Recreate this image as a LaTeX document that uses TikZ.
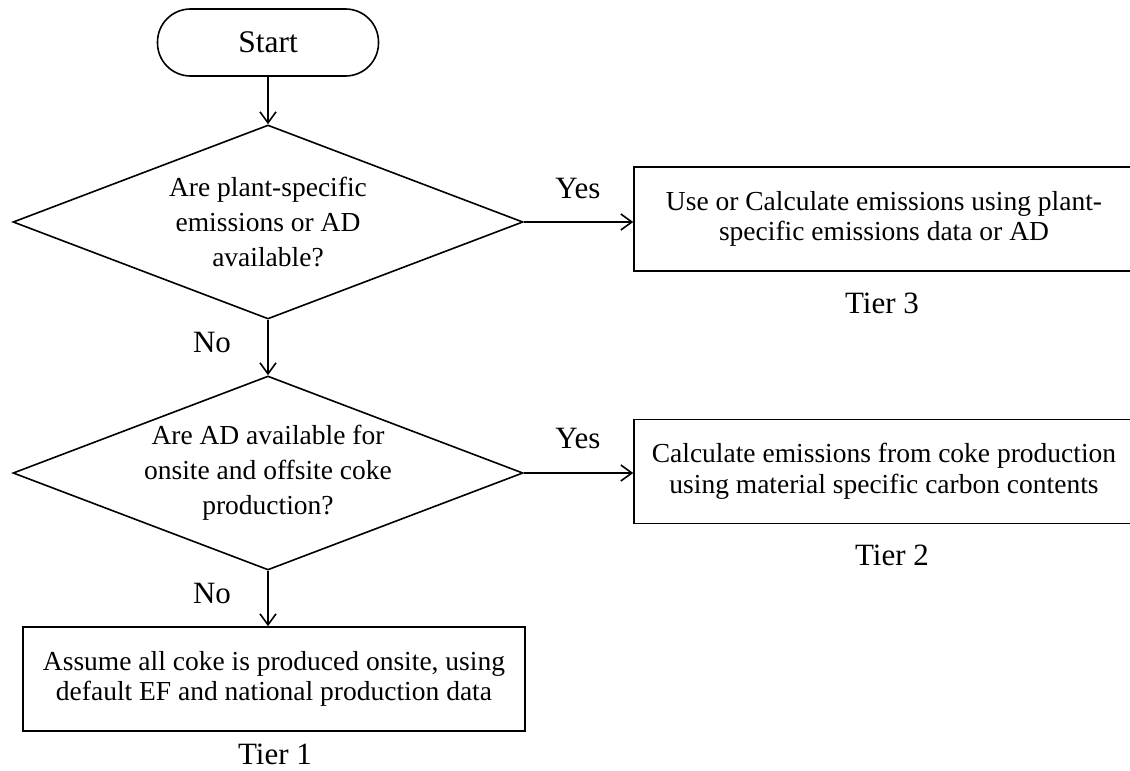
\documentclass[tikz,border=0pt]{standalone}
\usepackage{fontspec}
\setmainfont{Liberation Serif}
\usetikzlibrary{shapes.geometric,arrows.meta}

\begin{document}
\begin{tikzpicture}[x=1pt,y=-1pt,
    txt/.style ={align=center, font=\fontsize{27.5}{30.5}\selectfont},
    tag/.style ={inner sep=0pt, font=\fontsize{31}{34}\selectfont},
    terminal/.style ={draw, line width=1.6pt, rounded corners=33pt, minimum width=221pt, minimum height=67pt, font=\fontsize{31.5}{34}\selectfont},
    decision/.style ={diamond, draw, line width=1.6pt, aspect=2.64, inner sep=0pt, minimum width=510pt, minimum height=194pt, align=center, font=\fontsize{27.5}{35}\selectfont},
    process/.style ={rectangle, draw, line width=1.6pt, minimum height=104pt, txt},
    flow/.style ={line width=1.6pt, -{Straight Barb[length=11pt,width=16pt]}}]
   \useasboundingbox (0,0) rectangle (1130,771);
   \node[terminal] (start) at (268,42.5) {Start};
   \node[decision] (q1) at (268,222) {Are plant-specific\\emissions or AD\\available?};
   \node[decision] (q2) at (268,473) {Are AD available for\\onsite and offsite coke\\production?};
   \node[process, minimum width=500pt] (t3) at (884,219) {Use or Calculate emissions using plant-\\specific emissions data or AD};
   \node[process, minimum width=500pt] (t2) at (884,471.5) {Calculate emissions from coke production\\using material specific carbon contents};
   \node[process, minimum width=502pt] (t1) at (274,679) {Assume all coke is produced onsite, using\\default EF and national production data};
   \node[tag] (yes1) at (578,188) {Yes};
   \node[tag] (yes2) at (578,438) {Yes};
   \node[tag] (no1) at (212,342) {No};
   \node[tag] (no2) at (212,593) {No};
   \node[tag] (tier3) at (882,303) {Tier 3};
   \node[tag] (tier2) at (892,555) {Tier 2};
   \node[tag] (tier1) at (275,754) {Tier 1};
   \draw[flow] (start) to (q1);
   \draw[flow] (q1) to (q2);
   \draw[flow] (q1.east) to (q1.east -| t3.west);
   \draw[flow] (q2.east) to (q2.east -| t2.west);
   \draw[flow] (q2.south) to (q2.south |- t1.north);
 \end{tikzpicture}
\end{document}
